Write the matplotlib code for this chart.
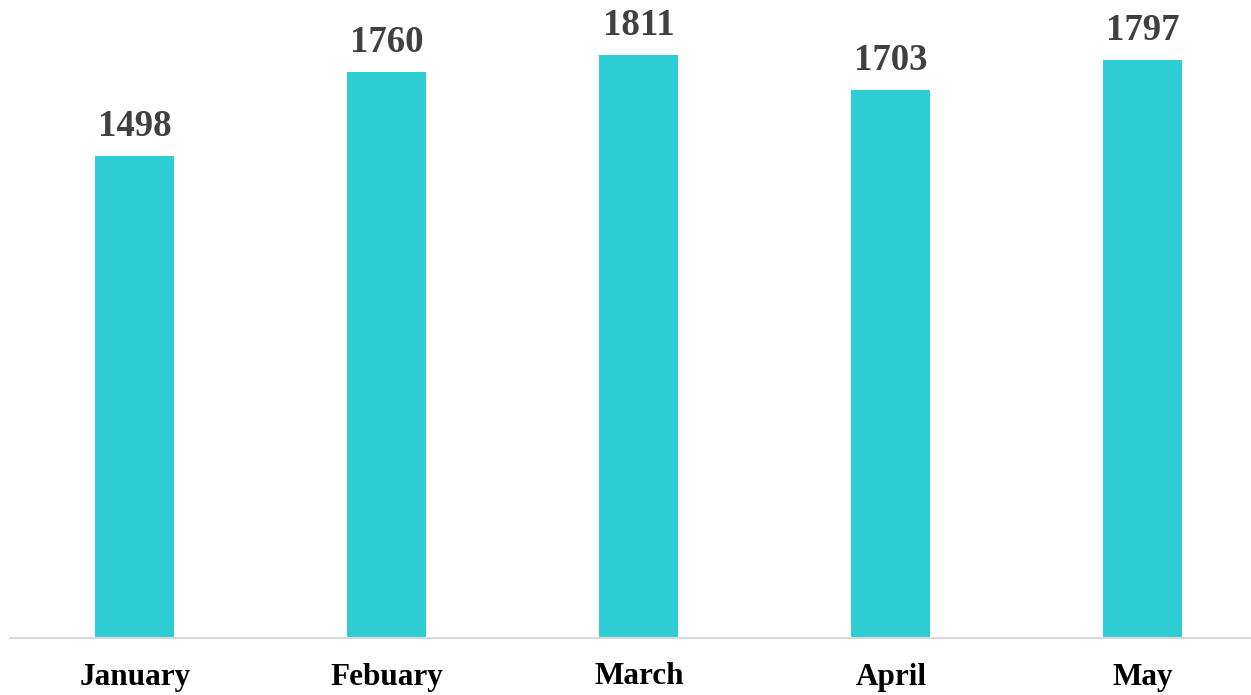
import matplotlib.pyplot as plt
import numpy as np

months = ["January", "Febuary", "March", "April", "May"]
values = [1498, 1760, 1811, 1703, 1797]

plt.rcParams['font.family'] = ['Liberation Serif', 'DejaVu Serif']

fig = plt.figure(figsize=(12.51, 6.95), dpi=100)
# axes spans from the left gray line start to the right edge
ax = fig.add_axes([10 / 1251, (695 - 637.5) / 695, 1241 / 1251, 637.5 / 695])

x = np.arange(len(months))
bars = ax.bar(x, values, width=0.3135, color='#2ECCD3', zorder=2)

for xi, v in zip(x, values):
    ax.annotate(str(v), (xi, v), xytext=(0, 14.5), textcoords='offset points',
                ha='center', va='baseline', fontsize=26.5, fontweight='bold',
                color='#404040')

ax.set_xlim(-0.496, 4.4286)
ax.set_ylim(0, 1983)
ax.set_xticks(x)
ax.set_xticklabels(months, fontsize=22.5, fontweight='bold', color='black')
ax.tick_params(axis='x', length=0, pad=18)
ax.set_yticks([])
for s in ['top', 'right', 'left']:
    ax.spines[s].set_visible(False)
ax.spines['bottom'].set_color('#D9D9D9')
ax.spines['bottom'].set_linewidth(1.5)

fig.savefig('out.png', dpi=100)
